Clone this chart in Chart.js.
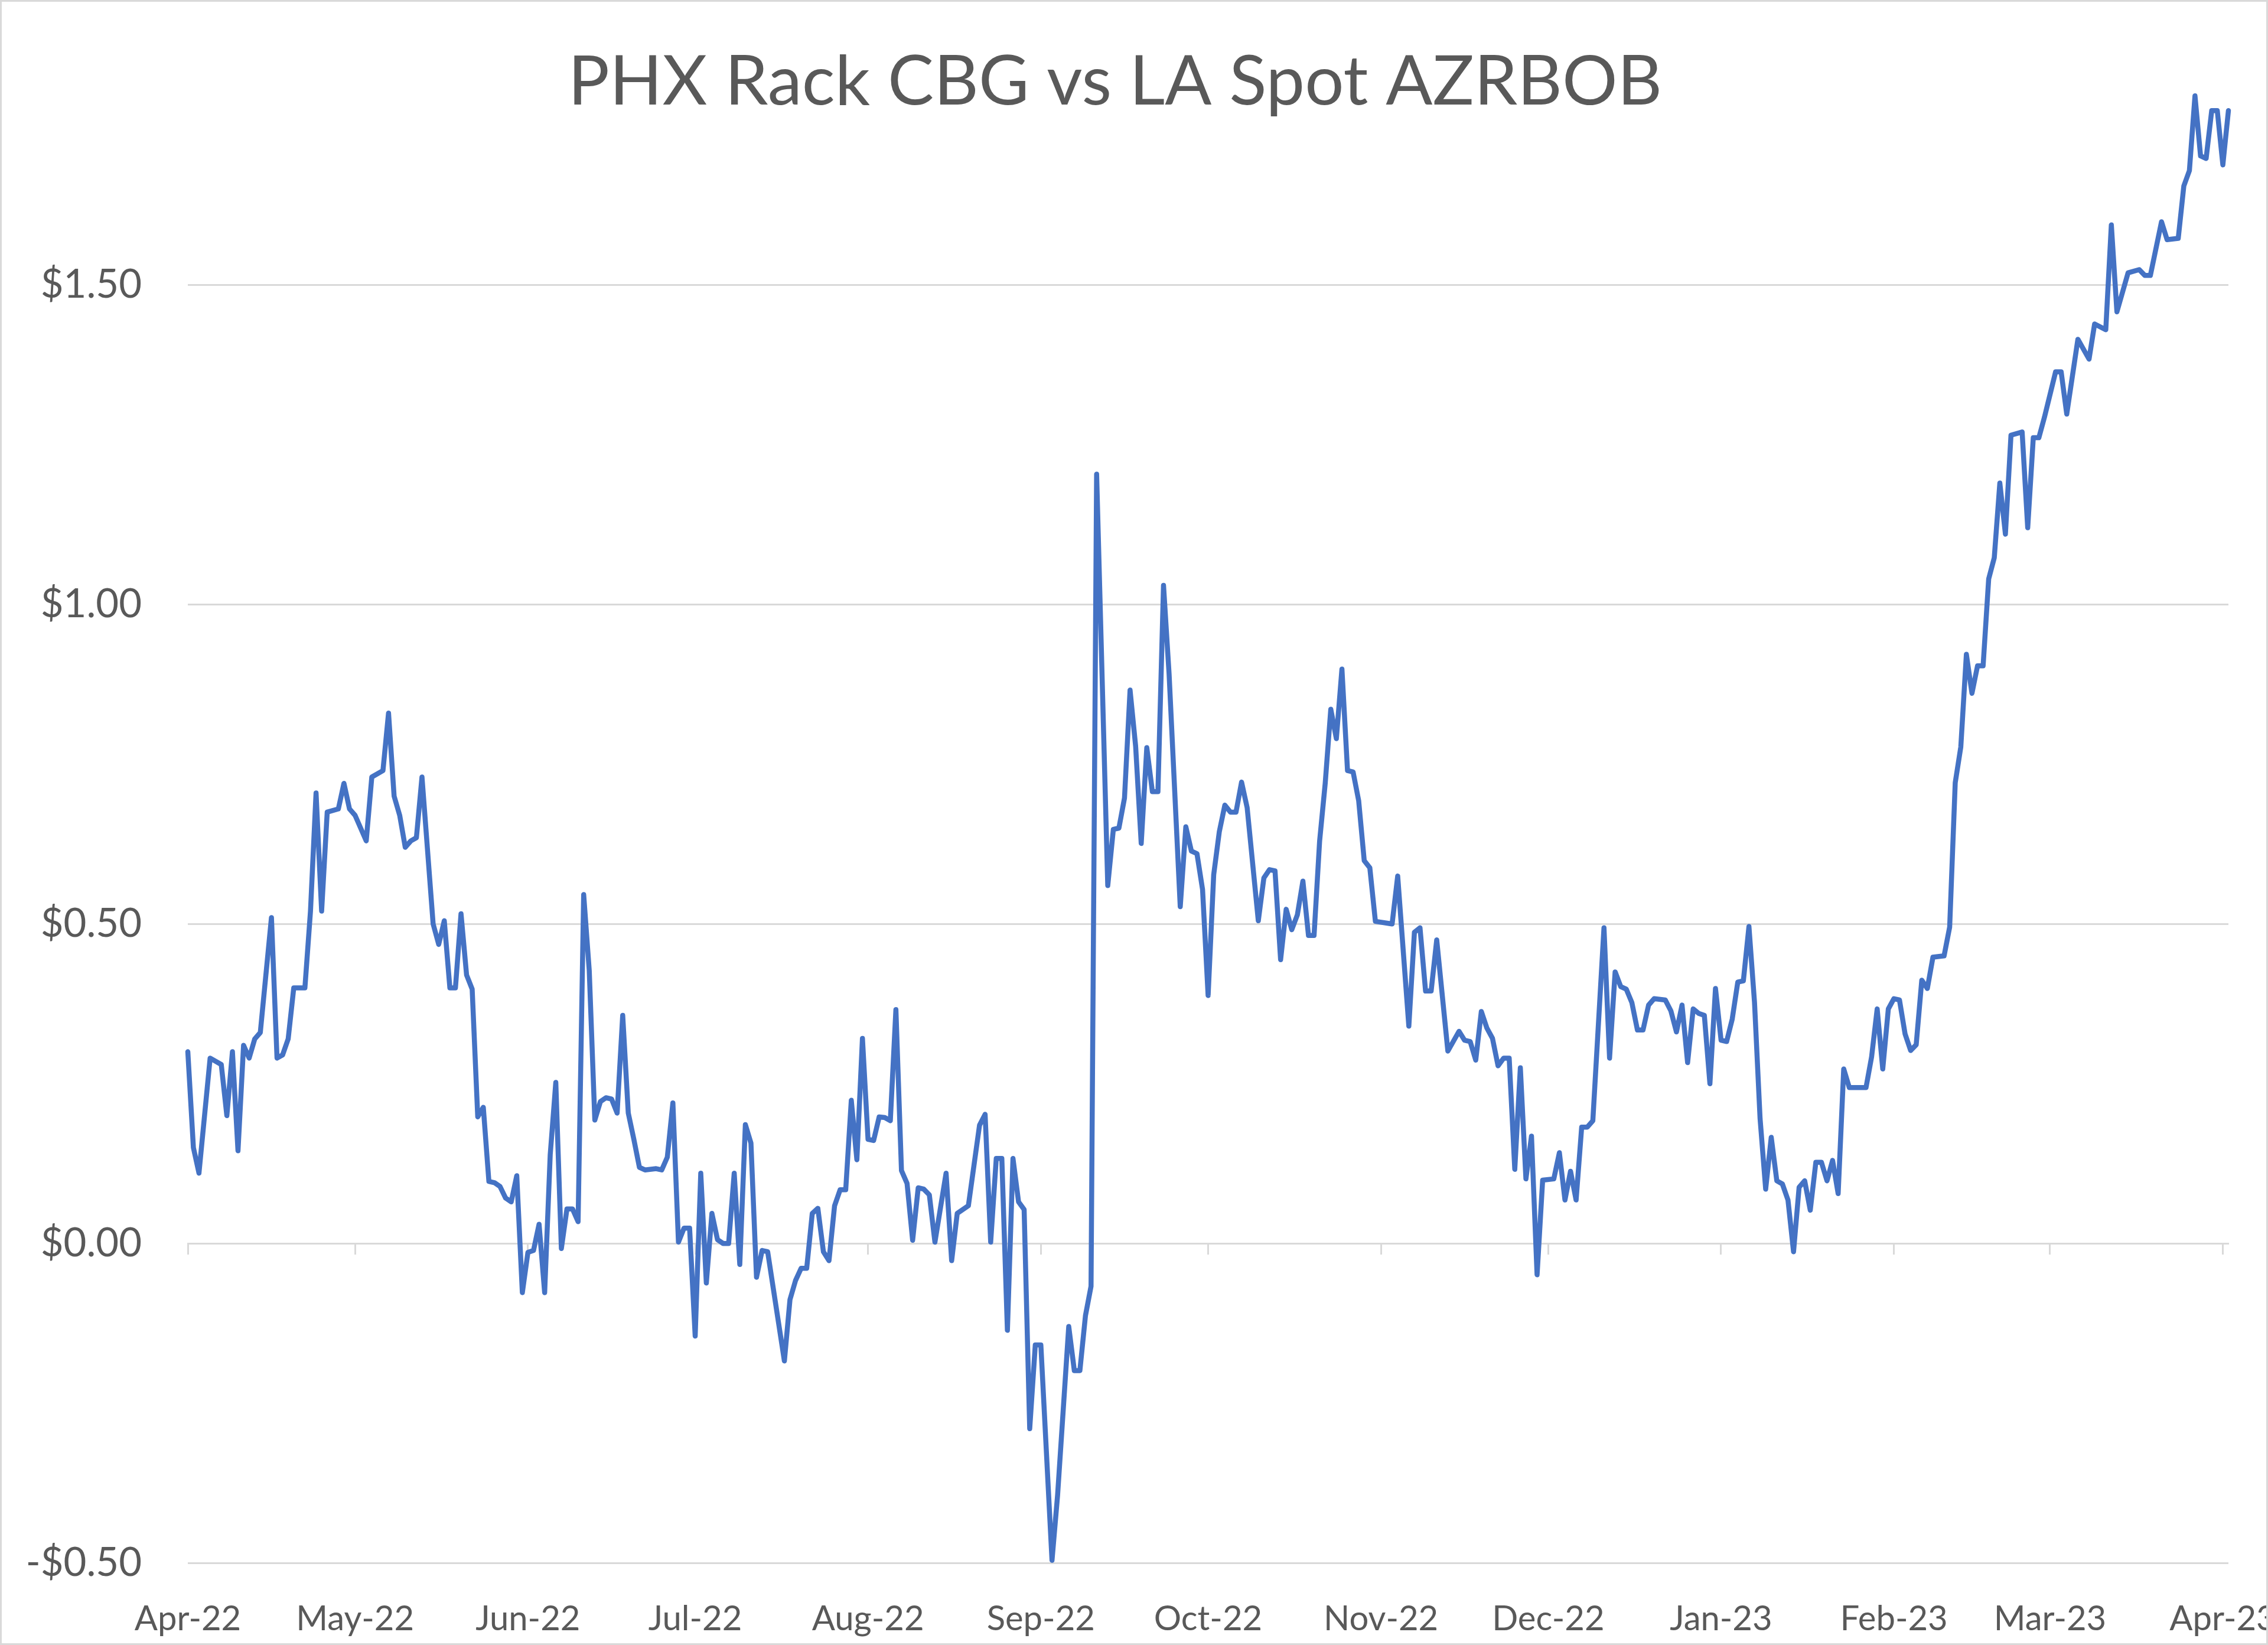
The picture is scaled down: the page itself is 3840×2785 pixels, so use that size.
<!DOCTYPE html>
<html>
<head>
<meta charset="utf-8">
<title>PHX Rack CBG vs LA Spot AZRBOB</title>
<script src="https://cdn.jsdelivr.net/npm/chart.js@4.4.1/dist/chart.umd.min.js"></script>
<style>
  html, body { margin: 0; padding: 0; background: #ffffff; }
  #wrap {
    width: 3840px;
    height: 2785px;
    box-sizing: border-box;
    border: 3px solid #d9d9d9;
    position: relative;
  }
</style>
</head>
<body>
<div id="wrap"><canvas id="spreadChart"></canvas></div>
<script>
// days counted from 2022-04-01
const startDate = "2022-04-01";

const dayIndex = [
  0, 1, 2, 4, 6, 7, 8, 9, 10, 11, 12, 13, 15, 16, 17, 18, 19, 21, 22, 23,
  24, 25, 27, 28, 29, 30, 32, 33, 35, 36, 37, 38, 39, 40, 41, 42, 44, 45, 46, 47,
  48, 49, 50, 51, 52, 53, 54, 55, 56, 57, 58, 59, 60, 61, 62, 63, 64, 65, 66, 67,
  68, 69, 70, 71, 72, 73, 74, 75, 76, 77, 78, 79, 80, 81, 82, 84, 85, 86, 87, 88,
  89, 90, 91, 92, 93, 94, 95, 96, 97, 98, 99, 100, 101, 102, 103, 104, 107, 108, 109, 110,
  111, 112, 113, 114, 115, 116, 117, 118, 119, 120, 121, 122, 123, 124, 125, 126, 127, 128, 129, 130,
  131, 132, 133, 134, 136, 137, 138, 140, 142, 143, 144, 145, 146, 147, 148, 149, 150, 151, 152, 153,
  155, 156, 158, 159, 160, 161, 162, 163, 165, 166, 167, 168, 169, 170, 171, 172, 173, 174, 175, 176,
  178, 179, 180, 181, 182, 183, 184, 185, 186, 187, 188, 189, 190, 192, 193, 194, 195, 196, 197, 198,
  199, 200, 201, 202, 203, 204, 205, 206, 207, 208, 209, 210, 211, 212, 213, 216, 217, 219, 220, 221,
  222, 223, 224, 226, 228, 229, 230, 231, 232, 233, 234, 235, 236, 237, 238, 239, 240, 241, 242, 243,
  245, 246, 247, 248, 249, 250, 251, 252, 254, 255, 256, 257, 258, 259, 260, 261, 262, 263, 265, 266,
  267, 268, 269, 270, 271, 272, 273, 274, 275, 276, 277, 278, 279, 280, 281, 282, 283, 284, 285, 286,
  287, 288, 289, 290, 291, 292, 293, 294, 295, 296, 297, 298, 301, 302, 303, 304, 305, 306, 307, 308,
  309, 310, 311, 312, 313, 315, 316, 317, 318, 319, 320, 321, 322, 323, 324, 325, 326, 327, 329, 330,
  331, 332, 333, 335, 336, 337, 339, 341, 342, 344, 345, 346, 348, 350, 351, 352, 354, 355, 357, 358,
  359, 360, 361, 362, 363, 364, 365, 366
];

const spread = [
  0.30, 0.15, 0.11, 0.29, 0.28, 0.20, 0.30, 0.145, 0.31, 0.29, 0.32, 0.33, 0.51, 0.29, 0.295, 0.32, 0.40, 0.40, 0.52, 0.705,
  0.52, 0.675, 0.68, 0.72, 0.68, 0.67, 0.63, 0.73, 0.74, 0.83, 0.70, 0.67, 0.62, 0.63, 0.635, 0.73, 0.50, 0.468, 0.505, 0.40,
  0.40, 0.516, 0.42, 0.398, 0.198, 0.213, 0.097, 0.095, 0.089, 0.071, 0.065, 0.106, -0.077, -0.014, -0.011, 0.030, -0.077, 0.139, 0.252, -0.008,
  0.054, 0.054, 0.034, 0.546, 0.427, 0.193, 0.222, 0.228, 0.226, 0.204, 0.357, 0.204, 0.163, 0.119, 0.115, 0.117, 0.115, 0.135, 0.220, 0.002,
  0.024, 0.024, -0.145, 0.110, -0.062, 0.047, 0.006, 0.0, 0.0, 0.110, -0.033, 0.186, 0.157, -0.053, -0.011, -0.013, -0.184, -0.088, -0.058, -0.039,
  -0.039, 0.047, 0.055, -0.013, -0.027, 0.059, 0.084, 0.084, 0.224, 0.131, 0.321, 0.163, 0.161, 0.198, 0.197, 0.192, 0.366, 0.114, 0.094, 0.005,
  0.087, 0.085, 0.076, 0.002, 0.110, -0.027, 0.047, 0.059, 0.185, 0.202, 0.002, 0.133, 0.133, -0.136, 0.133, 0.065, 0.053, -0.290, -0.159, -0.159,
  -0.496, -0.394, -0.130, -0.199, -0.199, -0.113, -0.067, 1.204, 0.560, 0.648, 0.650, 0.697, 0.866, 0.778, 0.626, 0.776, 0.707, 0.707, 1.030, 0.891,
  0.527, 0.652, 0.614, 0.610, 0.554, 0.388, 0.577, 0.644, 0.686, 0.675, 0.675, 0.722, 0.682, 0.505, 0.572, 0.585, 0.583, 0.444, 0.523, 0.491,
  0.514, 0.567, 0.482, 0.482, 0.630, 0.720, 0.836, 0.790, 0.899, 0.740, 0.738, 0.693, 0.599, 0.588, 0.504, 0.500, 0.575, 0.340, 0.487, 0.494,
  0.395, 0.395, 0.475, 0.301, 0.332, 0.318, 0.316, 0.287, 0.363, 0.337, 0.321, 0.278, 0.290, 0.290, 0.116, 0.275, 0.101, 0.168, -0.049, 0.099,
  0.101, 0.142, 0.068, 0.113, 0.068, 0.182, 0.182, 0.192, 0.494, 0.290, 0.425, 0.402, 0.398, 0.377, 0.334, 0.334, 0.373, 0.383, 0.381, 0.364,
  0.331, 0.373, 0.283, 0.367, 0.360, 0.357, 0.250, 0.399, 0.318, 0.316, 0.351, 0.409, 0.411, 0.496, 0.377, 0.195, 0.085, 0.166, 0.098, 0.093,
  0.068, -0.013, 0.088, 0.098, 0.052, 0.127, 0.127, 0.098, 0.130, 0.078, 0.273, 0.244, 0.244, 0.292, 0.367, 0.273, 0.367, 0.383, 0.381, 0.328,
  0.302, 0.311, 0.412, 0.399, 0.448, 0.450, 0.495, 0.721, 0.777, 0.922, 0.861, 0.904, 0.904, 1.040, 1.073, 1.190, 1.110, 1.265, 1.270, 1.120,
  1.261, 1.261, 1.293, 1.364, 1.364, 1.298, 1.415, 1.384, 1.439, 1.430, 1.594, 1.458, 1.519, 1.524, 1.515, 1.515, 1.599, 1.571, 1.573, 1.655,
  1.679, 1.796, 1.702, 1.698, 1.773, 1.773, 1.688, 1.773
];

// month starts on the date axis
const monthDays = [0, 30, 61, 91, 122, 153, 183, 214, 244, 275, 306, 334, 365];
const monthLabels = [
  "Apr-22", "May-22", "Jun-22", "Jul-22", "Aug-22", "Sep-22", "Oct-22",
  "Nov-22", "Dec-22", "Jan-23", "Feb-23", "Mar-23", "Apr-23"
];
const yTickValues = [-0.5, 0, 0.5, 1.0, 1.5];

const textColor = "#595959";
const gridColor = "#d9d9d9";

Chart.defaults.font.family = "Lato, 'Open Sans', sans-serif";

function monthTicks(axis) {
  axis.ticks = monthDays.map((d) => ({ value: d }));
}

function dollars(v) {
  return (v < 0 ? "-$" : "$") + Math.abs(v).toFixed(2);
}

const points = dayIndex.map((d, i) => ({ x: d, y: spread[i] }));

new Chart(document.getElementById("spreadChart"), {
  type: "line",
  data: {
    datasets: [
      {
        label: "PHX Rack CBG vs LA Spot AZRBOB",
        data: points,
        borderColor: "#4472C4",
        borderWidth: 8.5,
        borderJoinStyle: "round",
        borderCapStyle: "round",
        pointRadius: 0,
        tension: 0,
        fill: false,
        clip: false,
      },
    ],
  },
  options: {
    responsive: true,
    maintainAspectRatio: false,
    animation: false,
    layout: { padding: { left: 0, right: 64, top: 0, bottom: 0 } },
    plugins: {
      legend: { display: false },
      tooltip: { enabled: false },
      title: {
        display: true,
        text: "PHX Rack CBG vs LA Spot AZRBOB",
        color: textColor,
        font: { size: 117, weight: "normal", lineHeight: 1 },
        padding: { top: 78, bottom: 0 },
      },
    },
    scales: {
      x: {
        type: "linear",
        min: 0,
        max: 366,
        afterBuildTicks: monthTicks,
        afterFit: (scale) => {
          scale.height = 136;
          scale.paddingLeft = 0;
          scale.paddingRight = 0;
        },
        grid: { display: false, drawTicks: false },
        border: { display: false },
        ticks: {
          autoSkip: false,
          maxRotation: 0,
          padding: 60,
          color: textColor,
          font: { size: 58 },
          callback: (value) => monthLabels[monthDays.indexOf(value)],
        },
      },
      zeroAxis: {
        type: "linear",
        axis: "x",
        position: { y: 0 },
        min: 0,
        max: 366,
        afterBuildTicks: monthTicks,
        grid: {
          drawOnChartArea: false,
          drawTicks: true,
          tickLength: 17,
          tickWidth: 3,
          tickColor: gridColor,
        },
        border: { display: true, color: gridColor, width: 3 },
        ticks: { display: false },
      },
      y: {
        min: -0.5,
        max: 1.763,
        afterBuildTicks: (axis) => {
          axis.ticks = yTickValues.map((v) => ({ value: v }));
        },
        afterFit: (scale) => {
          scale.width = 315;
        },
        grid: { color: gridColor, lineWidth: 3, drawTicks: false },
        border: { display: false },
        ticks: {
          padding: 78,
          color: textColor,
          font: { size: 67 },
          callback: (value) => dollars(value),
        },
      },
    },
  },
});
</script>
</body>
</html>
